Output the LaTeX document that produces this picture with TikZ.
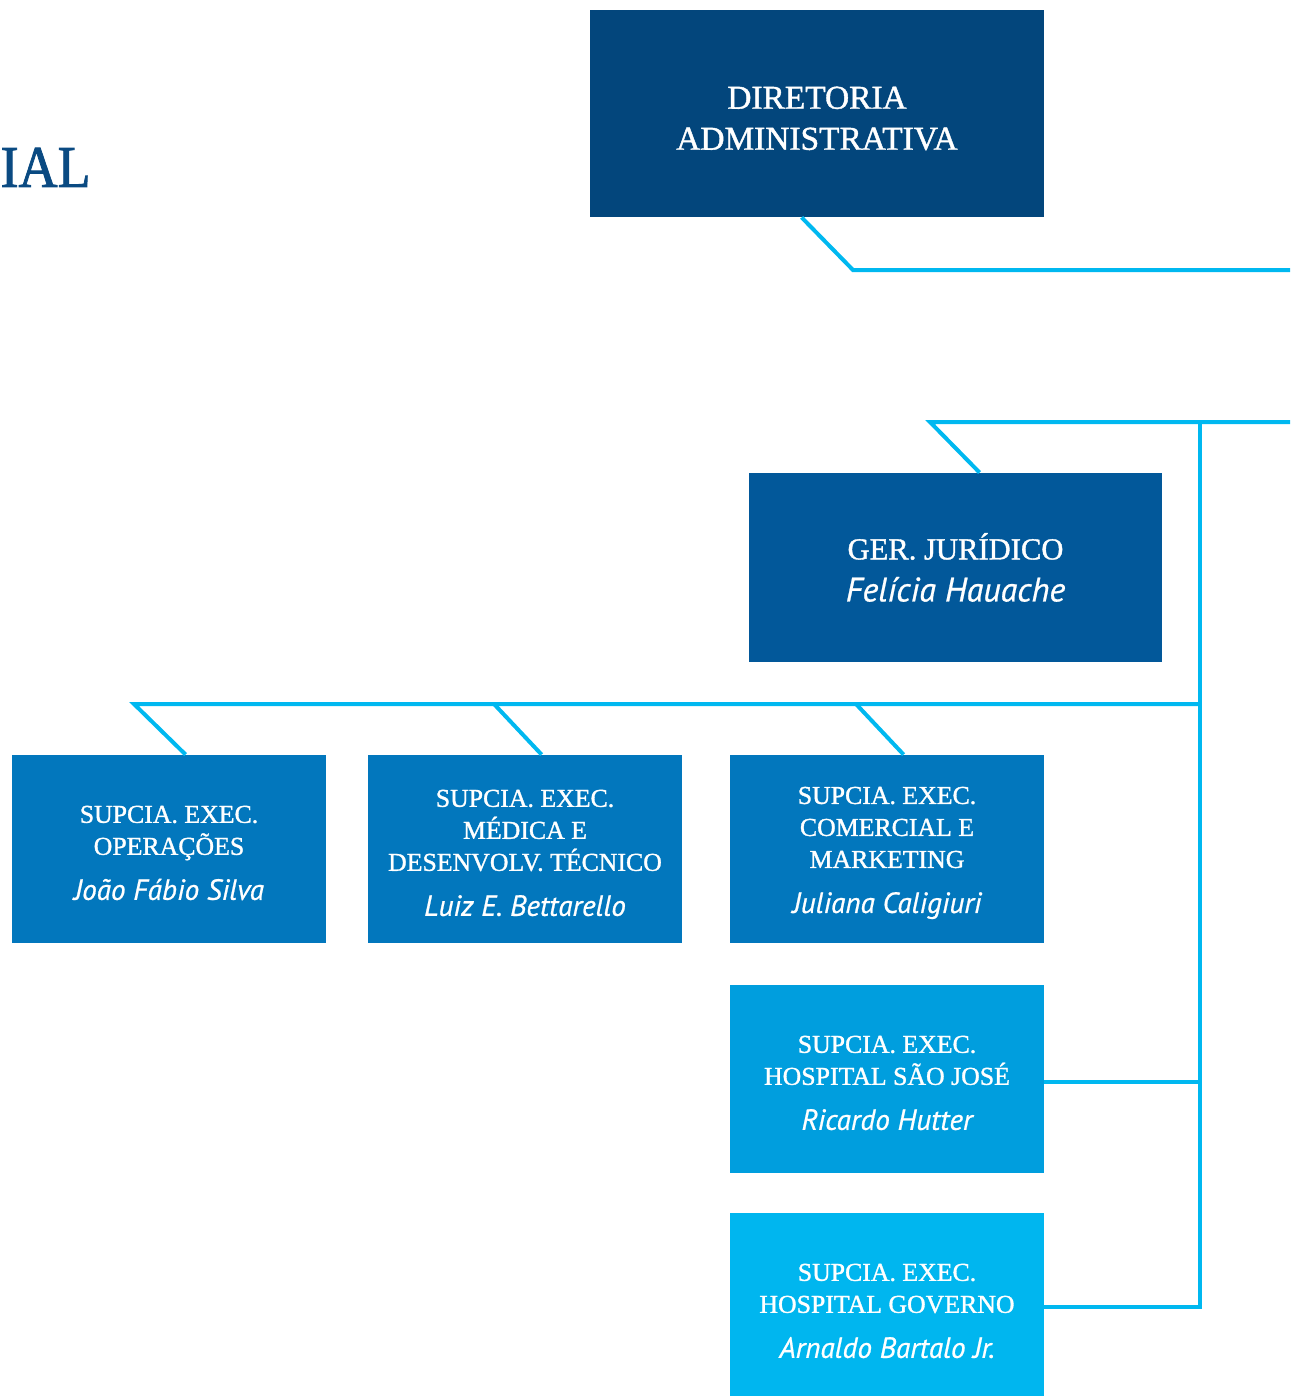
\documentclass[tikz,border=0pt]{standalone}
\usepackage{fontspec}
\newfontfamily\namefont{PT Sans}[FakeBold=0.7]
\newfontfamily\capfont{Liberation Serif}[FakeBold=1.2]
\newfontfamily\titlefont{Liberation Serif}[FakeBold=1.5]
\usetikzlibrary{calc}
\definecolor{navy}{HTML}{03467C}
\definecolor{midblue}{HTML}{02589A}
\definecolor{rowblue}{HTML}{0277BD}
\definecolor{skyblue}{HTML}{009EDE}
\definecolor{lightblue}{HTML}{00B6EF}
\definecolor{lineblue}{HTML}{00B8F0}
\definecolor{titleblue}{HTML}{0A4A82}
\newcommand\nm[1]{{\namefont\itshape\fontsize{14.6}{16}\selectfont #1}}
\newcommand\topstrut{\rule{0pt}{12.5pt}}
\begin{document}
\begin{tikzpicture}[x=0.5pt,y=-0.5pt,
  box/.style={rectangle, inner sep=0pt, text=white, align=center},
  rowbox/.style={box, minimum width=157pt, minimum height=94pt, font=\capfont\fontsize{12.9}{16}\selectfont},
  conn/.style={line width=2pt, draw=lineblue}]
\useasboundingbox (0,0) rectangle (1290,1396);
\clip (0,0) rectangle (1290,1396);

\node[anchor=base east, text=titleblue, font=\titlefont\fontsize{27}{27}\selectfont, inner sep=0pt] (ial) at (91,187) {\scalebox{1}[1.1]{IAL}};

\node[box, fill=navy, minimum width=227pt, minimum height=103.5pt, font=\capfont\fontsize{16.7}{20.5}\selectfont] (dir) at (817,113.5) {\rule{0pt}{16pt}DIRETORIA\\ADMINISTRATIVA};

\node[box, fill=midblue, minimum width=206.5pt, minimum height=94.5pt, font=\capfont\fontsize{15.3}{21}\selectfont] (gj) at (955.5,567.5) {GER. JURÍDICO\\{\namefont\itshape\fontsize{17}{21}\selectfont Felícia Hauache}};

\node[rowbox, fill=rowblue] (b1) at (169,849) {\topstrut SUPCIA. EXEC.\\OPERAÇÕES\\[6.5pt]\nm{João Fábio Silva}};
\node[rowbox, fill=rowblue] (b2) at (525,849) {\topstrut SUPCIA. EXEC.\\MÉDICA E\\DESENVOLV. TÉCNICO\\[6.5pt]\nm{Luiz E. Bettarello}};
\node[rowbox, fill=rowblue] (b3) at (887,849) {\topstrut SUPCIA. EXEC.\\COMERCIAL E\\MARKETING\\[6.5pt]\nm{Juliana Caligiuri}};
\node[rowbox, fill=skyblue] (b4) at (887,1079) {\topstrut SUPCIA. EXEC.\\HOSPITAL SÃO JOSÉ\\[6.5pt]\nm{Ricardo Hutter}};
\node[rowbox, fill=lightblue] (b5) at (887,1307) {\topstrut SUPCIA. EXEC.\\HOSPITAL GOVERNO\\[6.5pt]\nm{Arnaldo Bartalo Jr.}};

% connectors
\coordinate (j1) at (853,270);
\coordinate (r1) at (1290,270);
\draw[conn] ($(dir.south west)+(212,0)$) -- (j1) -- (r1);

\coordinate (g1) at (930,422);
\coordinate (r2) at (1290,422);
\coordinate (tt) at (1200,422);
\coordinate (tb) at (1200,1309);
\draw[conn] ($(gj.north west)+(231,0)$) -- (g1) -- (r2);
\draw[conn] (tt) -- (tb);

\coordinate (h1) at (134,704);
\coordinate (h2) at (494,704);
\coordinate (h3) at (856,704);
\coordinate (hr) at (1200,704);
\draw[conn] ($(b1.north west)+(174,0)$) -- (h1) -- (hr);
\draw[conn] ($(b2.north west)+(174,0)$) -- (h2);
\draw[conn] ($(b3.north west)+(174,0)$) -- (h3);

\draw[conn] ($(b4.east)+(0,3)$) -- ($(b4.east)+(156,3)$);
\draw[conn] (b5.east) -- (b5.east -| tt);
\end{tikzpicture}
\end{document}
